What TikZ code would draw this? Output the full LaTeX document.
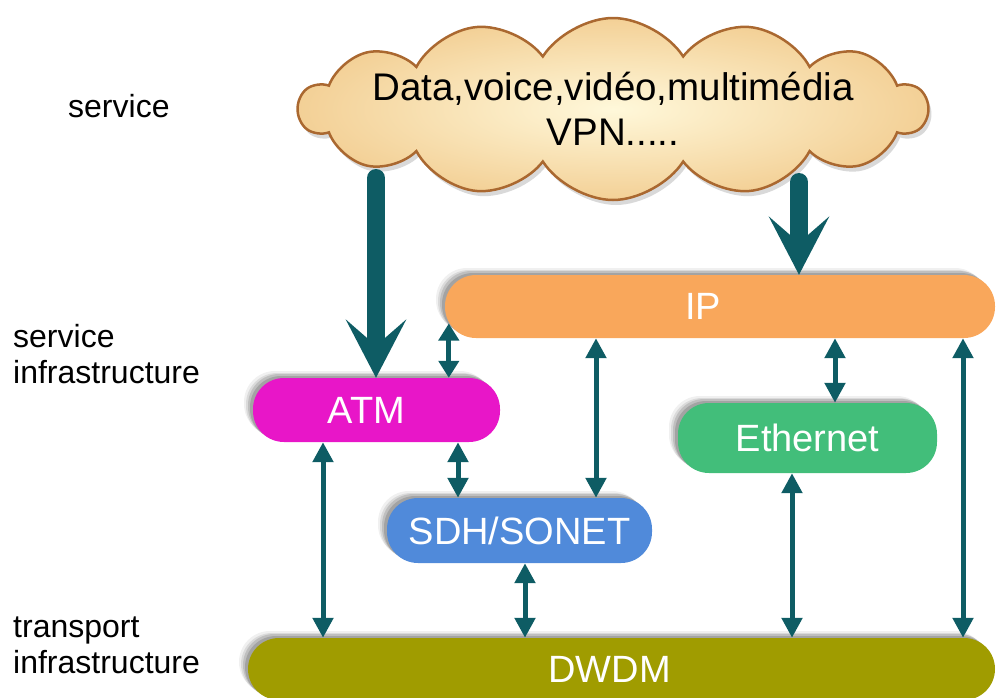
\documentclass[tikz,border=0pt]{standalone}
\usepackage{fontspec}
\setmainfont{Liberation Sans}
\usetikzlibrary{arrows.meta,shapes.symbols,shadows}

\definecolor{linkteal}{RGB}{14,92,100}
\definecolor{ipfill}{RGB}{249,167,91}
\definecolor{atmfill}{RGB}{232,22,200}
\definecolor{ethfill}{RGB}{66,190,122}
\definecolor{sdhfill}{RGB}{80,138,218}
\definecolor{dwdmfill}{RGB}{160,156,0}
\definecolor{cloudin}{RGB}{255,248,218}
\definecolor{cloudout}{RGB}{243,208,150}
\definecolor{cloudedge}{RGB}{170,104,48}

\tikzset{
  layer/.style={rectangle, rounded corners=31pt, inner sep=0pt, text=white,
    font=\fontsize{38}{40}\selectfont,
    drop shadow={shadow xshift=-9pt, shadow yshift=7pt, opacity=.06, fill=black},
    drop shadow={shadow xshift=-7pt, shadow yshift=5pt, opacity=.09, fill=black},
    drop shadow={shadow xshift=-5pt, shadow yshift=4pt, opacity=.12, fill=black},
    drop shadow={shadow xshift=-3pt, shadow yshift=2pt, opacity=.15, fill=black}},
  sidelabel/.style={align=left, inner sep=0pt, font=\fontsize{32}{36}\selectfont},
  link/.style={draw=linkteal, line width=5pt,
    {Triangle[width=20pt,length=20pt]}-{Triangle[width=20pt,length=20pt]}},
  shortlink/.style={draw=linkteal, line width=5pt,
    {Triangle[width=20pt,length=17pt]}-{Triangle[width=20pt,length=17pt]}},
  feed/.style={draw=linkteal, line width=18pt, line cap=round,
    -{Stealth[width=60pt,length=58pt,inset=26pt]}},
}

\begin{document}
\begin{tikzpicture}[x=1pt,y=-1pt]
\useasboundingbox (0,0) rectangle (996,697);

% layer labels on the left (anchored on the baseline of the last line)
\node[sidelabel, anchor=base west] (lsvc) at (68,117) {service};
\node[sidelabel, anchor=base west] (lsinf) at (13,383) {service\\infrastructure};
\node[sidelabel, anchor=base west] (ltinf) at (13,673) {transport\\infrastructure};

% services cloud
\node[cloud, cloud puffs=14, cloud puff arc=115, aspect=3.4,
      minimum width=628pt, minimum height=182pt, inner sep=0pt,
      draw=cloudedge, line width=2.5pt,
      shading=radial, inner color=cloudin, outer color=cloudout,
      drop shadow={shadow xshift=3pt, shadow yshift=-5pt, opacity=.15, fill=black},
      align=center, font=\fontsize{38.5}{45}\selectfont]
  (cloud) at (613,109)
  {\makebox[0pt]{Data,voice,vidéo,multimédia}\\\makebox[0pt]{VPN.....}};

% network layers
\node[layer, fill=ipfill,   minimum width=550pt, minimum height=63pt] (IP)   at (720,306.5) {\hspace*{-34pt}IP};
\node[layer, fill=atmfill,  minimum width=247pt, minimum height=64pt] (ATM)  at (376.5,410) {\hspace*{-20pt}ATM};
\node[layer, fill=ethfill,  minimum width=259pt, minimum height=70pt] (ETH)  at (807.5,438) {Ethernet};
\node[layer, fill=sdhfill,  minimum width=265pt, minimum height=65pt] (SDH)  at (519.5,530.5) {SDH/SONET};
\node[layer, fill=dwdmfill, minimum width=747pt, minimum height=62pt] (DWDM) at (621.5,669) {\hspace*{-24pt}DWDM};

% columns of the vertical links
\coordinate (c1) at (323,0);
\coordinate (c3) at (458,0);
\coordinate (c4) at (525,0);
\coordinate (c5) at (596,0);
\coordinate (c6) at (792,0);
\coordinate (c7) at (835,0);
\coordinate (c8) at (963,0);
% point on the rounded left end of IP
\coordinate (ipa) at ([xshift=4pt,yshift=-17pt]IP.west);

% service feeds out of the cloud
\coordinate (f1) at (376,178);
\coordinate (f2) at (799,182);
\draw[feed] (f1) -- (ATM.north -| f1);
\draw[feed] (f2) -- (IP.north -| f2);

% links between layers
\draw[shortlink] (ipa) -- (ATM.north -| ipa);
\draw[link] (IP.south -| c5) -- (SDH.north -| c5);
\draw[link] (IP.south -| c7) -- (ETH.north -| c7);
\draw[link] (IP.south -| c8) -- (DWDM.north -| c8);
\draw[link] (ATM.south -| c1) -- (DWDM.north -| c1);
\draw[link] (ATM.south -| c3) -- (SDH.north -| c3);
\draw[link] (SDH.south -| c4) -- (DWDM.north -| c4);
\draw[link] (ETH.south -| c6) -- (DWDM.north -| c6);
\end{tikzpicture}
\end{document}
